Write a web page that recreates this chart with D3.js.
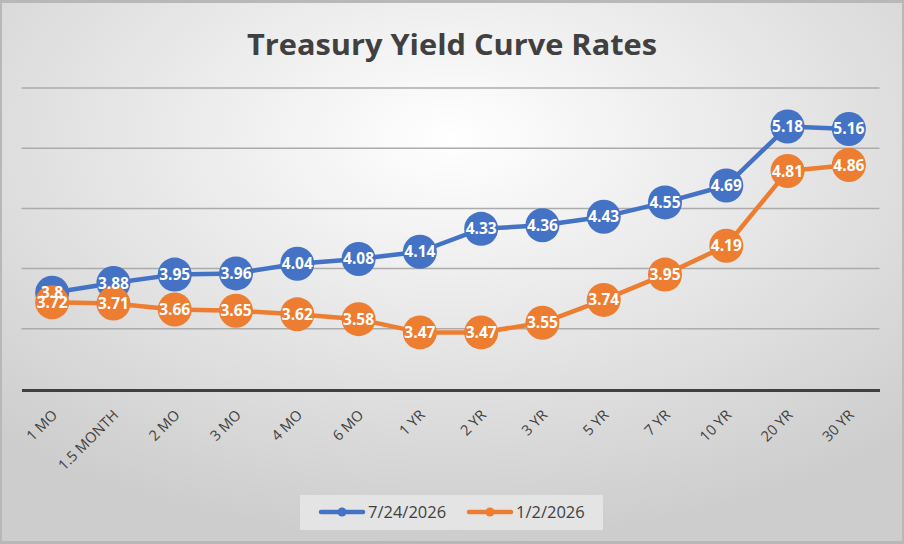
<!DOCTYPE html>
<html>
<head>
<meta charset="utf-8">
<script src="https://cdn.jsdelivr.net/npm/d3@7"></script>
<style>
  html, body { margin: 0; padding: 0; background: #fff; }
  svg { display: block; }
</style>
</head>
<body>
<svg id="chart" width="904" height="544"></svg>
<script>
// tenors and the two curves
var tenors = ["1 MO", "1.5 MONTH", "2 MO", "3 MO", "4 MO", "6 MO", "1 YR", "2 YR", "3 YR", "5 YR", "7 YR", "10 YR", "20 YR", "30 YR"]
var julyRates = [3.8, 3.88, 3.95, 3.96, 4.04, 4.08, 4.14, 4.33, 4.36, 4.43, 4.55, 4.69, 5.18, 5.16]
var janRates = [3.72, 3.71, 3.66, 3.65, 3.62, 3.58, 3.47, 3.47, 3.55, 3.74, 3.95, 4.19, 4.81, 4.86]
var seriesNames = ["7/24/2026", "1/2/2026"]
var seriesColors = ["#4472C4", "#ED7D31"]
var gridValues = [3.5, 4, 4.5, 5, 5.5]

var W = 904, H = 544
var svg = d3.select("#chart")

var defs = svg.append("defs")
var grad = defs.append("radialGradient")
  .attr("id", "bg")
  .attr("cx", "50%").attr("cy", "25%").attr("r", "75%")
grad.append("stop").attr("offset", "0%").attr("stop-color", "#ffffff")
grad.append("stop").attr("offset", "100%").attr("stop-color", "#cdcdcd")

// frame + background
svg.append("rect").attr("x", 0).attr("y", 0).attr("width", W).attr("height", H).attr("fill", "#b8b8b8")
svg.append("rect").attr("x", 2).attr("y", 3).attr("width", W - 4).attr("height", H - 6).attr("fill", "url(#bg)")

var plot = { left: 21.5, right: 879.5, top: 88, bottom: 389 }

var x = d3.scaleBand().domain(tenors).range([plot.left, plot.right])
var y = d3.scaleLinear().domain([3, 5.5]).range([plot.bottom, plot.top])
var cx = function(d, i) { return x(tenors[i]) + x.bandwidth() / 2 }

// title
svg.append("text")
  .attr("x", W / 2).attr("y", 55)
  .attr("text-anchor", "middle")
  .attr("font-family", "Open Sans, sans-serif")
  .attr("font-weight", "bold")
  .attr("font-size", 29)
  .attr("textLength", 410)
  .attr("lengthAdjust", "spacingAndGlyphs")
  .attr("fill", "#404040")
  .text("Treasury Yield Curve Rates")

// gridlines
svg.append("g").selectAll("line").data(gridValues).enter().append("line")
  .attr("x1", plot.left).attr("x2", plot.right)
  .attr("y1", function(d) { return y(d) }).attr("y2", function(d) { return y(d) })
  .attr("stroke", "#ababab").attr("stroke-width", 1.5)

// x axis line
var xAxis = svg.append("g").attr("transform", "translate(0," + (plot.bottom + 1) + ")")
  .call(d3.axisBottom(x).tickSize(0).tickFormat(""))
xAxis.select(".domain").attr("stroke", "#404040").attr("stroke-width", 3)

// rotated category labels
var labelY = 416
svg.append("g").selectAll("text").data(tenors).enter().append("text")
  .attr("x", function(d) { return x(d) + x.bandwidth() / 2 + 6 })
  .attr("y", labelY)
  .attr("transform", function(d) {
    return "rotate(-45 " + (x(d) + x.bandwidth() / 2 + 6) + " " + labelY + ")"
  })
  .style("text-anchor", "end")
  .style("font-family", "'Open Sans', sans-serif")
  .style("font-size", "14.5px")
  .attr("fill", "#404040")
  .text(function(d) { return d })

// series
var allSeries = [julyRates, janRates]
var line = d3.line().x(cx).y(function(d) { return y(d) })

allSeries.forEach(function(vals, s) {
  var g = svg.append("g")
  g.append("path").datum(vals)
    .attr("d", line)
    .attr("fill", "none")
    .attr("stroke", seriesColors[s])
    .attr("stroke-width", 4.5)
    .attr("stroke-linejoin", "round")
  g.selectAll("circle").data(vals).enter().append("circle")
    .attr("cx", cx).attr("cy", function(d) { return y(d) })
    .attr("r", 17)
    .attr("fill", seriesColors[s])
})

allSeries.forEach(function(vals, s) {
  svg.append("g").selectAll("text").data(vals).enter().append("text")
    .attr("x", cx).attr("y", function(d) { return y(d) + 5.5 })
    .attr("text-anchor", "middle")
    .attr("font-family", "Open Sans, sans-serif")
    .attr("font-weight", "bold")
    .attr("font-size", 15.5)
    .attr("fill", "#ffffff")
    .text(function(d) { return d })
})

// legend
var legend = svg.append("g")
legend.append("rect").attr("x", 300).attr("y", 495).attr("width", 303).attr("height", 35).attr("fill", "#e4e4e4")
var legendX = [321, 469]
seriesNames.forEach(function(name, s) {
  var lx = legendX[s]
  legend.append("line").attr("x1", lx).attr("x2", lx + 42).attr("y1", 512).attr("y2", 512)
    .attr("stroke", seriesColors[s]).attr("stroke-width", 4.5).attr("stroke-linecap", "round")
  legend.append("circle").attr("cx", lx + 21).attr("cy", 512).attr("r", 4.5).attr("fill", seriesColors[s])
  legend.append("text").attr("x", lx + 47).attr("y", 518)
    .attr("font-family", "Open Sans, sans-serif")
    .attr("font-size", 16.5)
    .attr("fill", "#404040")
    .text(name)
})
</script>
</body>
</html>
